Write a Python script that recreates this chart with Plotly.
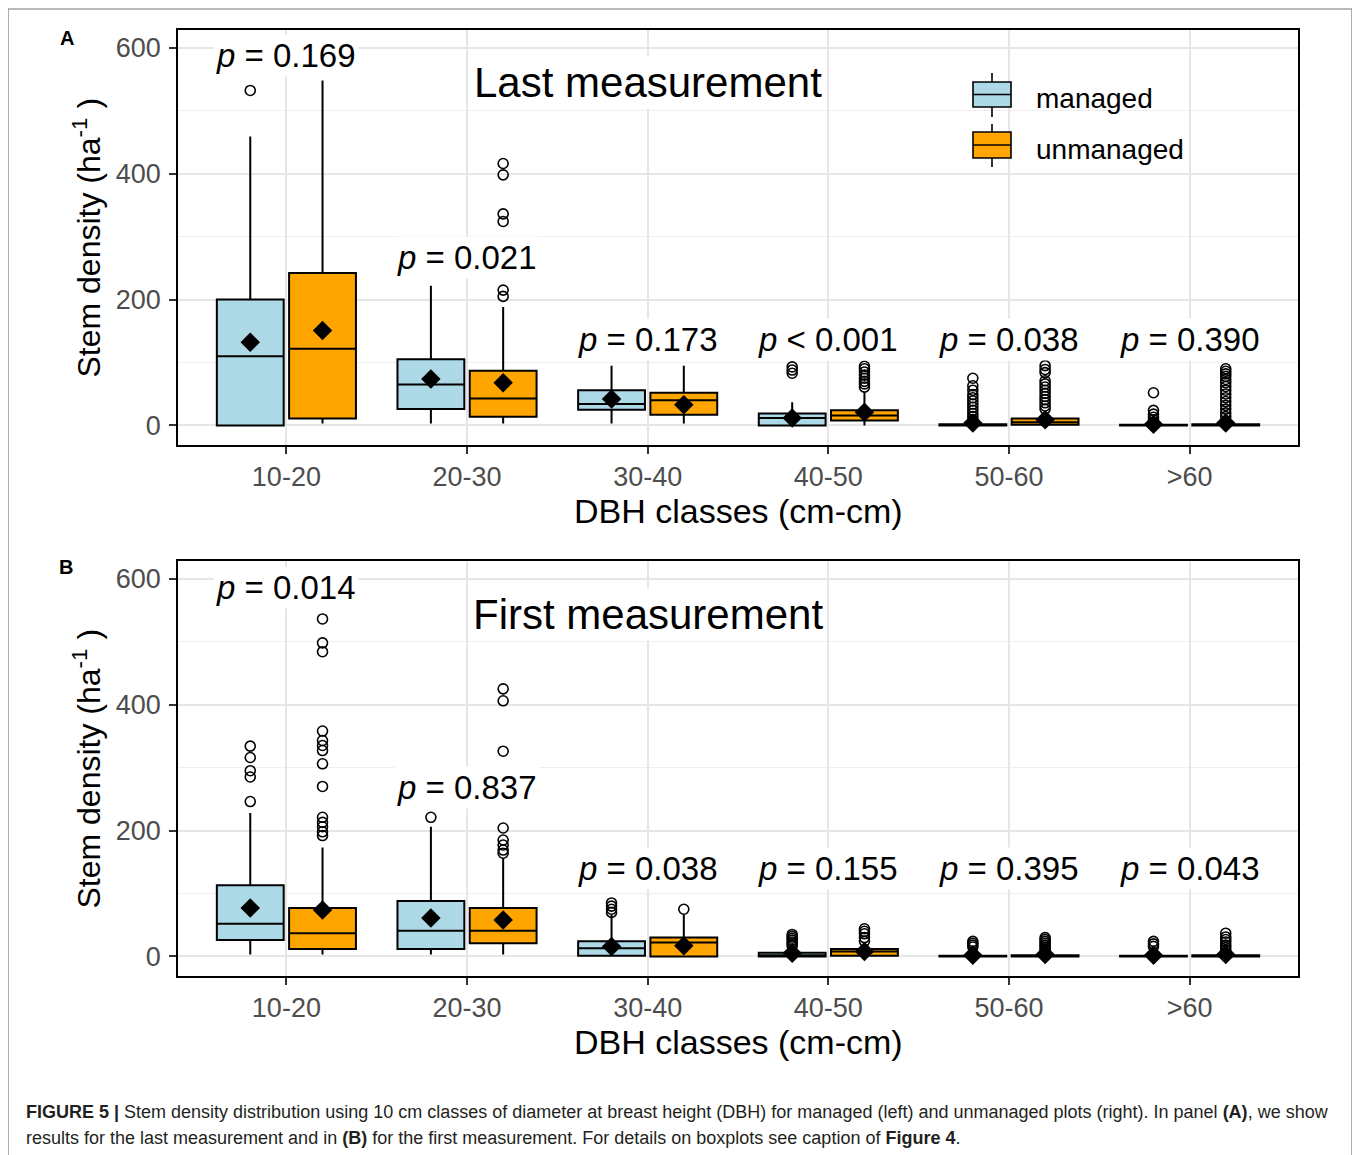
import plotly.graph_objects as go

# ---------------- data ----------------
CATEGORIES = ["10-20", "20-30", "30-40", "40-50", "50-60", ">60"]
GROUPS = ["managed", "unmanaged"]

# Panel A: last measurement
A_MAN_Q1 = [0, 26, 25, 0, 0, 0]
A_MAN_MED = [110, 65, 34, 12, 0, 0]
A_MAN_Q3 = [200, 105, 56, 19, 2, 1]
A_MAN_LO = [0, 3, 3, 0, 0, 0]
A_MAN_HI = [459, 222, 95, 37, 5, 3]
A_MAN_MEAN = [132, 74, 42, 12, 4, 2]
A_MAN_OUT = [[532], [], [], [93, 88, 83],
             [75, 63, 56, 49, 44, 39, 34, 29, 24, 19, 14, 9],
             [52, 24, 18, 13, 9]]

A_UNM_Q1 = [11, 14, 17, 8, 1, 0]
A_UNM_MED = [122, 43, 40, 16, 5, 0]
A_UNM_Q3 = [242, 87, 52, 24, 11, 2]
A_UNM_LO = [3, 3, 3, 0, 0, 0]
A_UNM_HI = [548, 188, 95, 53, 22, 5]
A_UNM_MEAN = [151, 68, 33, 21, 9, 4]
A_UNM_OUT = [[], [416, 398, 336, 324, 215, 205], [],
             [94, 90, 85, 80, 75, 70, 66, 61],
             [95, 89, 84, 71, 66, 61, 56, 51, 46, 41, 36, 31, 26],
             [90, 86, 82, 78, 73, 68, 62, 56, 50, 44, 38, 32, 26, 20, 14]]

A_PVALUES = ["= 0.169", "= 0.021", "= 0.173", "< 0.001", "= 0.038", "= 0.390"]
A_PVAL_Y = [588, 267, 137, 137, 137, 137]

# Panel B: first measurement
B_MAN_Q1 = [26, 12, 1, 0, 0, 0]
B_MAN_MED = [52, 41, 13, 2, 0, 0]
B_MAN_Q3 = [113, 88, 24, 6, 1, 1]
B_MAN_LO = [3, 3, 0, 0, 0, 0]
B_MAN_HI = [228, 206, 66, 14, 4, 4]
B_MAN_MEAN = [77, 61, 16, 5, 2, 2]
B_MAN_OUT = [[334, 316, 295, 285, 246], [221], [85, 80, 75, 70],
             [35, 32, 29, 26, 23, 20, 17], [24, 21, 18, 15], [24, 20, 16]]

B_UNM_Q1 = [12, 21, 0, 1, 0, 0]
B_UNM_MED = [37, 41, 22, 8, 0, 0]
B_UNM_Q3 = [77, 77, 30, 12, 2, 2]
B_UNM_LO = [3, 3, 0, 0, 0, 0]
B_UNM_HI = [173, 156, 66, 18, 6, 6]
B_UNM_MEAN = [74, 58, 17, 8, 3, 3]
B_UNM_OUT = [[536, 498, 484, 358, 343, 335, 327, 306, 270, 221, 213, 206, 198, 192],
             [425, 406, 326, 204, 185, 177, 169, 164], [75],
             [44, 40, 36, 30, 24], [30, 27, 24, 21, 18, 15, 12, 9],
             [37, 31, 27, 23, 18, 14, 10]]

B_PVALUES = ["= 0.014", "= 0.837", "= 0.038", "= 0.155", "= 0.395", "= 0.043"]
B_PVAL_Y = [586, 269, 139, 139, 139, 139]

Y_TICKS = [0, 200, 400, 600]
Y_MINOR = [100, 300, 500]

# ---------------- style ----------------
W, H = 1360, 1155
PAGE_MARGIN = 8  # browser default body margin
COLORS = {"managed": "#ADD8E6", "unmanaged": "#FFA500"}
DODGE = 0.2
BOX_W = 0.37
FONT = "Liberation Sans, Arial, sans-serif"


def fx(p):
    return (p - PAGE_MARGIN) / W


def fy(p):
    return 1 - (p - PAGE_MARGIN) / H


fig = go.Figure()

panels = [
    ("x", "y", {
        "managed": (A_MAN_Q1, A_MAN_MED, A_MAN_Q3, A_MAN_LO, A_MAN_HI, A_MAN_MEAN, A_MAN_OUT),
        "unmanaged": (A_UNM_Q1, A_UNM_MED, A_UNM_Q3, A_UNM_LO, A_UNM_HI, A_UNM_MEAN, A_UNM_OUT),
    }),
    ("x2", "y2", {
        "managed": (B_MAN_Q1, B_MAN_MED, B_MAN_Q3, B_MAN_LO, B_MAN_HI, B_MAN_MEAN, B_MAN_OUT),
        "unmanaged": (B_UNM_Q1, B_UNM_MED, B_UNM_Q3, B_UNM_LO, B_UNM_HI, B_UNM_MEAN, B_UNM_OUT),
    }),
]

for xa, ya, data in panels:
    for gi, g in enumerate(GROUPS):
        q1, med, q3, lo, hi, mean, out = data[g]
        off = -DODGE if gi == 0 else DODGE
        xs = [i + off for i in range(len(CATEGORIES))]
        fig.add_trace(go.Box(
            x=xs, q1=q1, median=med, q3=q3, lowerfence=lo, upperfence=hi,
            width=BOX_W, fillcolor=COLORS[g], line=dict(color="black", width=2),
            whiskerwidth=0, boxpoints=False, name=g, showlegend=False,
            xaxis=xa, yaxis=ya))
    for gi, g in enumerate(GROUPS):
        q1, med, q3, lo, hi, mean, out = data[g]
        off = -DODGE if gi == 0 else DODGE
        ox, oy = [], []
        for i, vals in enumerate(out):
            for v in vals:
                ox.append(i + off)
                oy.append(v)
        fig.add_trace(go.Scatter(
            x=ox, y=oy, mode="markers", showlegend=False,
            marker=dict(symbol="circle-open", size=10, color="black", line=dict(width=1.6)),
            xaxis=xa, yaxis=ya))
    for gi, g in enumerate(GROUPS):
        q1, med, q3, lo, hi, mean, out = data[g]
        off = -DODGE if gi == 0 else DODGE
        fig.add_trace(go.Scatter(
            x=[i + off for i in range(len(CATEGORIES))], y=mean, mode="markers",
            showlegend=False, marker=dict(symbol="diamond", size=15, color="black"),
            xaxis=xa, yaxis=ya))

xdom = [fx(178), fx(1298)]
axis_common = dict(
    showline=True, mirror=True, linecolor="black", linewidth=1.6,
    ticks="outside", ticklen=7, tickwidth=1.5, tickcolor="#333333",
    showgrid=True, gridcolor="#E6E6E6", gridwidth=1.6, zeroline=False,
    tickfont=dict(family=FONT, size=27, color="#4D4D4D"),
)
xaxis_cfg = dict(axis_common, range=[-0.6, 5.6], tickmode="array",
                 tickvals=list(range(len(CATEGORIES))), ticktext=CATEGORIES, domain=xdom)
yaxis_cfg = dict(axis_common, range=[-31, 628], tickmode="array", tickvals=Y_TICKS,
                 ticklabelstandoff=3,
                 minor=dict(tickmode="array", tickvals=Y_MINOR, showgrid=True,
                            gridcolor="#EFEFEF", gridwidth=1.2))

fig.update_layout(
    width=W, height=H, paper_bgcolor="white", plot_bgcolor="white",
    margin=dict(l=0, r=0, t=0, b=0), boxmode="overlay", showlegend=False,
    font=dict(family=FONT),
    xaxis=dict(xaxis_cfg, anchor="y"),
    yaxis=dict(yaxis_cfg, anchor="x", domain=[fy(445), fy(30)]),
    xaxis2=dict(xaxis_cfg, anchor="y2"),
    yaxis2=dict(yaxis_cfg, anchor="x2", domain=[fy(976), fy(561)]),
)


def paper_text(x, y, text, size, xanchor="center", **kw):
    return dict(x=fx(x), y=fy(y), xref="paper", yref="paper", text=text,
                xanchor=xanchor, yanchor="middle", showarrow=False,
                font=dict(family=FONT, size=size, color=kw.pop("color", "black")), **kw)


annotations = []
for xr, yr, pv, pvy in [("x", "y", A_PVALUES, A_PVAL_Y), ("x2", "y2", B_PVALUES, B_PVAL_Y)]:
    for i, (t, yv) in enumerate(zip(pv, pvy)):
        annotations.append(dict(
            x=i, y=yv, xref=xr, yref=yr, text="<i>p</i> " + t, showarrow=False,
            xanchor="center", yanchor="middle",
            font=dict(family=FONT, size=33, color="black"), bgcolor="white", borderpad=2))

annotations.append(dict(x=2, y=545, xref="x", yref="y", text="Last measurement",
                        showarrow=False, xanchor="center", yanchor="middle",
                        font=dict(family=FONT, size=42, color="black"),
                        bgcolor="white", borderpad=2))
annotations.append(dict(x=2, y=543, xref="x2", yref="y2", text="First measurement",
                        showarrow=False, xanchor="center", yanchor="middle",
                        font=dict(family=FONT, size=42, color="black"),
                        bgcolor="white", borderpad=2))

# axis titles
for yc in [(30 + 445) / 2, (561 + 976) / 2]:
    annotations.append(paper_text(86, yc, "Stem density (ha<sup>-1</sup> )", 32, textangle=-90))
for yc in [511, 1042]:
    annotations.append(paper_text(738, yc, "DBH classes (cm-cm)", 34))

# panel letters
annotations.append(paper_text(67, 38, "<b>A</b>", 20))
annotations.append(paper_text(66, 567, "<b>B</b>", 20))

# legend text
annotations.append(paper_text(1034, 98, "managed", 28, xanchor="left"))
annotations.append(paper_text(1034, 149, "unmanaged", 28, xanchor="left"))

# caption
CAPTION_1 = ("<b>FIGURE 5 |</b> Stem density distribution using 10 cm classes of diameter at breast "
             "height (DBH) for managed (left) and unmanaged plots (right). In panel <b>(A)</b>, we show")
CAPTION_2 = ("results for the last measurement and in <b>(B)</b> for the first measurement. "
             "For details on boxplots see caption of <b>Figure 4</b>.")
annotations.append(paper_text(24, 1112, CAPTION_1, 18, xanchor="left", color="#231F20"))
annotations.append(paper_text(24, 1138, CAPTION_2, 18, xanchor="left", color="#231F20"))
fig.update_layout(annotations=annotations)

# decorative shapes: outer frame, legend background and keys
shapes = [
    dict(type="rect", xref="paper", yref="paper", x0=fx(8), x1=fx(1352), y0=fy(1175), y1=fy(9),
         line=dict(color="#777777", width=1.2), fillcolor="rgba(0,0,0,0)", layer="below"),
    dict(type="rect", xref="paper", yref="paper", x0=fx(948), x1=fx(1197), y0=fy(183), y1=fy(62),
         line=dict(width=0), fillcolor="white", layer="between"),
]
for g, (top, bot, midy, wt, wb) in zip(GROUPS, [(82, 107, 94.5, 73, 117), (132, 158, 145, 124, 167)]):
    shapes.append(dict(type="line", xref="paper", yref="paper", x0=fx(992), x1=fx(992),
                       y0=fy(wt), y1=fy(wb), line=dict(color="black", width=1.6)))
    shapes.append(dict(type="rect", xref="paper", yref="paper", x0=fx(973), x1=fx(1011),
                       y0=fy(bot), y1=fy(top), fillcolor=COLORS[g],
                       line=dict(color="black", width=1.6)))
    shapes.append(dict(type="line", xref="paper", yref="paper", x0=fx(973), x1=fx(1011),
                       y0=fy(midy), y1=fy(midy), line=dict(color="black", width=1.6)))
fig.update_layout(shapes=shapes)

fig.write_html("out.html")
